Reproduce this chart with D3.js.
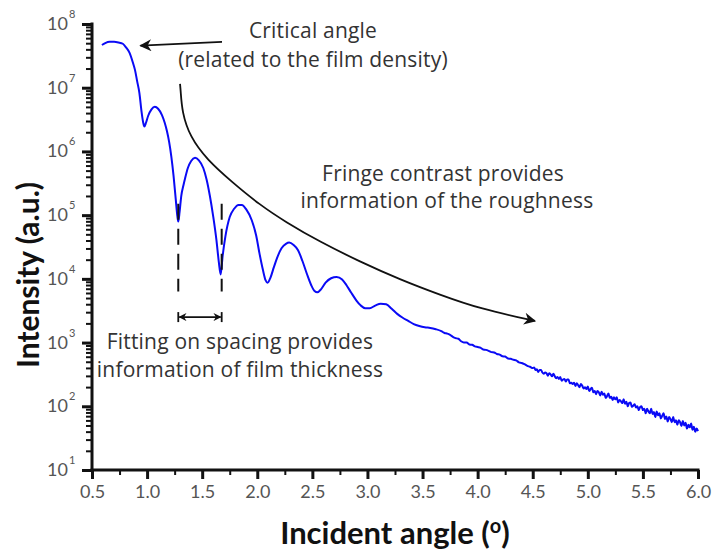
<!DOCTYPE html>
<html><head><meta charset="utf-8">
<script src="https://cdn.jsdelivr.net/npm/d3@7"></script>
<style>body{margin:0;background:#fff} svg{display:block}</style>
</head><body><svg id="c" width="713" height="551"></svg>
<script>
// ---- data (angle in degrees, log10 of intensity) ----
const scanAngle = [0.59,0.62,0.66,0.70,0.74,0.78,0.81,0.84,0.87,0.89,0.91,0.93,0.95,0.965,0.975,0.99,1.01,1.04,1.07,1.10,1.135,1.16,1.18,1.20,1.22,1.24,1.26,1.275,1.283,1.295,1.31,1.33,1.345,1.37,1.40,1.435,1.47,1.51,1.54,1.57,1.60,1.63,1.65,1.668,1.685,1.71,1.75,1.79,1.83,1.86,1.90,1.95,1.99,2.02,2.05,2.075,2.094,2.12,2.15,2.18,2.22,2.26,2.29,2.33,2.37,2.41,2.45,2.49,2.52,2.545,2.58,2.62,2.67,2.72,2.77,2.81,2.85,2.90,2.94,2.98,3.02,3.07,3.12,3.17,3.22,3.27,3.32,3.37,3.42,3.47,3.52,3.57,3.62,3.67,
3.70,3.725,3.75,3.775,3.80,3.825,3.85,3.875,3.90,3.925,3.95,3.975,4.00,4.025,4.05,4.075,4.10,4.125,4.15,4.175,4.20,4.225,4.25,4.275,4.30,4.325,4.35,4.375,4.40,4.425,4.45,4.475,
4.5,4.5125,4.525,4.5375,4.55,4.5625,4.575,4.5875,4.6,4.6125,4.625,4.6375,4.65,4.6625,4.675,4.6875,4.7,4.7125,4.725,4.7375,4.75,4.7625,4.775,4.7875,4.8,4.8125,4.825,4.8375,4.85,4.8625,4.875,4.8875,4.9,4.9125,4.925,4.9375,4.95,4.9625,4.975,4.9875,5.0,5.0125,5.025,5.0375,5.05,5.0625,5.075,5.0875,5.1,5.1125,5.125,5.1375,5.15,5.1625,5.175,5.1875,5.2,5.2125,5.225,5.2375,5.25,5.2625,5.275,5.2875,5.3,5.3125,5.325,5.3375,5.35,5.3625,5.375,5.3875,5.4,5.4125,5.425,5.4375,5.45,5.4625,5.475,5.4875,5.5,5.5125,5.525,5.5375,5.55,5.5625,5.575,5.5875,5.6,5.6125,5.625,5.6375,5.65,5.6625,5.675,5.6875,5.7,5.7125,5.725,5.7375,5.75,5.7625,5.775,5.7875,5.8,5.8125,5.825,5.8375,5.85,5.8625,5.875,5.8875,5.9,5.9125,5.925,5.9375,5.95,5.9625,5.975,5.9875,6.0];
const scanLogI = [7.67,7.70,7.72,7.72,7.71,7.69,7.63,7.55,7.40,7.28,7.10,6.92,6.62,6.45,6.39,6.45,6.56,6.66,6.70,6.67,6.57,6.45,6.32,6.15,5.92,5.62,5.25,4.98,4.90,5.05,5.30,5.47,5.58,5.74,5.85,5.90,5.86,5.74,5.56,5.30,4.98,4.60,4.28,4.07,4.35,4.66,4.97,5.10,5.16,5.16,5.09,4.92,4.68,4.40,4.15,3.98,3.94,4.02,4.18,4.33,4.48,4.55,4.57,4.53,4.45,4.28,4.08,3.90,3.81,3.79,3.84,3.94,4.01,4.03,3.99,3.90,3.79,3.66,3.58,3.54,3.54,3.58,3.61,3.60,3.53,3.45,3.39,3.34,3.29,3.26,3.24,3.23,3.21,3.18,
3.15,3.14,3.12,3.09,3.07,3.06,3.02,3.00,3.00,2.97,2.965,2.94,2.93,2.92,2.89,2.885,2.87,2.85,2.845,2.82,2.81,2.785,2.78,2.75,2.745,2.73,2.72,2.69,2.68,2.66,2.635,2.62,
2.60,2.61,2.57,2.58,2.54,2.57,2.57,2.53,2.51,2.53,
2.52,2.48,2.52,2.50,2.47,2.51,2.47,2.44,2.46,2.43,
2.46,2.40,2.42,2.43,2.39,2.42,2.42,2.36,2.37,2.35,
2.37,2.32,2.36,2.33,2.30,2.35,2.32,2.28,2.30,2.27,
2.31,2.24,2.27,2.29,2.22,2.24,2.19,2.24,2.22,2.17,
2.23,2.18,2.20,2.13,2.16,2.20,2.13,2.15,2.10,2.14,
2.11,2.14,2.06,2.10,2.08,2.05,2.11,2.04,2.07,2.00,
2.05,2.06,1.99,2.01,2.03,1.98,2.00,1.94,1.99,2.00,
1.94,1.96,1.89,1.96,1.92,1.89,1.96,1.88,1.91,1.83,
1.92,1.86,1.89,1.81,1.85,1.89,1.80,1.84,1.76,1.83,
1.80,1.75,1.83,1.75,1.78,1.71,1.78,1.75,1.69,1.77,
1.70,1.74,1.65,1.71,1.67,1.73,1.63,1.68,1.60,1.65,
1.61];
const xTickValues = [0.5,1.0,1.5,2.0,2.5,3.0,3.5,4.0,4.5,5.0,5.5,6.0];
const yExponents = [1,2,3,4,5,6,7,8];
// annotation curve (roughness arrow), in data units
const arrowAngle = [1.299,1.305,1.317,1.389,1.544,1.770,2.024,2.251,2.569,2.932,3.295,3.658,4.021,4.520];
const arrowLogI  = [7.06,6.95,6.62,6.23,5.87,5.52,5.16,4.90,4.58,4.27,3.99,3.75,3.53,3.34];
const fringeMinima = [1.283,1.677];

// ---- scales ----
const svg = d3.select("#c");
const x = d3.scaleLinear().domain([0.5,6.0]).range([92,698]);
const y = d3.scaleLog().domain([1e1,1e8]).range([470,24]);
const LATO = "Lato, 'Open Sans', sans-serif";
const OPEN = "'Open Sans', Lato, sans-serif";

const defs = svg.append("defs");
function marker(id, w, h){
  defs.append("marker").attr("id",id).attr("viewBox","0 0 10 10").attr("refX",9).attr("refY",5)
    .attr("markerWidth",w).attr("markerHeight",h).attr("markerUnits","userSpaceOnUse").attr("orient","auto-start-reverse")
    .append("path").attr("d","M0,0 L10,5 L0,10 L3,5 Z").attr("fill","#111");
}
marker("ah",16,12);
marker("ahs",9,8);

// ---- axes ----
const minorY = [];
yExponents.slice(0,-1).forEach(e=>{ for(let k=2;k<=9;k++) minorY.push(k*Math.pow(10,e)); });
const gy = svg.append("g").attr("transform","translate(92,0)");
gy.call(d3.axisLeft(y).tickValues(minorY).tickSize(6).tickFormat(""))
  .call(g=>g.selectAll(".tick line").attr("stroke","#111").attr("stroke-width",2));
gy.call(g=>g.select(".domain").remove());
const gy2 = svg.append("g").attr("transform","translate(92,0)");
gy2.call(d3.axisLeft(y).tickValues(yExponents.map(e=>Math.pow(10,e))).tickSize(10).tickFormat(""))
  .call(g=>g.selectAll(".tick line").attr("stroke","#111").attr("stroke-width",3))
  .call(g=>g.select(".domain").attr("stroke","#111").attr("stroke-width",3).attr("d","M0,22.5V471.5"));
yExponents.forEach(e=>{
  svg.append("text").attr("x",68).attr("y",y(Math.pow(10,e))+6).attr("text-anchor","end")
    .style("font-family",LATO).attr("font-size",18).attr("fill","#555").text("10");
  svg.append("text").attr("x",69).attr("y",y(Math.pow(10,e))-6).style("font-family",LATO)
    .attr("font-size",11).attr("fill","#555").text(e);
});

const minorX = xTickValues.slice(0,-1).map(v=>v+0.25);
const gx = svg.append("g").attr("transform","translate(0,470)");
gx.call(d3.axisBottom(x).tickValues(minorX).tickSize(5).tickFormat(""))
  .call(g=>g.selectAll(".tick line").attr("stroke","#111").attr("stroke-width",2))
  .call(g=>g.select(".domain").remove());
const gx2 = svg.append("g").attr("transform","translate(0,470)");
gx2.call(d3.axisBottom(x).tickValues(xTickValues).tickSize(9).tickPadding(6).tickFormat(d3.format(".1f")))
  .call(g=>g.selectAll(".tick line").attr("stroke","#111").attr("stroke-width",3))
  .call(g=>g.select(".domain").attr("stroke","#111").attr("stroke-width",3).attr("d","M90.5,0H699.5"))
  .call(g=>g.selectAll(".tick text").attr("font-size",18).attr("fill","#555").style("font-family",LATO));

// axis titles
svg.append("text").attr("transform","translate(39,275) rotate(-90)").attr("text-anchor","middle")
  .style("font-family",LATO).attr("font-size",30).attr("font-weight","bold").attr("fill","#111").text("Intensity (a.u.)");
const xt = svg.append("text").attr("x",395).attr("y",544).attr("text-anchor","middle")
  .style("font-family",LATO).attr("font-size",31).attr("font-weight","bold").attr("fill","#111");
xt.append("tspan").text("Incident angle (");
xt.append("tspan").attr("dy",-11).attr("font-size",20).text("o");
xt.append("tspan").attr("dy",11).text(")");

// ---- data line ----
const scan = scanAngle.map((a,i)=>({a, v:Math.pow(10,scanLogI[i])}));
svg.append("path").datum(scan)
  .attr("d", d3.line().x(d=>x(d.a)).y(d=>y(d.v)).curve(d3.curveMonotoneX))
  .attr("fill","none").attr("stroke","#0a0af5").attr("stroke-width",2).attr("stroke-linejoin","round");

// ---- annotations ----
const ink = "#111";
svg.append("line").attr("x1",x(1.68)).attr("y1",y(Math.pow(10,7.72))).attr("x2",x(0.94)).attr("y2",y(Math.pow(10,7.66)))
  .attr("stroke",ink).attr("stroke-width",1.8).attr("marker-end","url(#ah)");
const arr = arrowAngle.map((a,i)=>[x(a), y(Math.pow(10,arrowLogI[i]))]);
svg.append("path").attr("d", d3.line().curve(d3.curveBasis)(arr))
  .attr("fill","none").attr("stroke",ink).attr("stroke-width",1.8).attr("marker-end","url(#ah)");
fringeMinima.forEach(a=>{
  svg.append("line").attr("x1",x(a)).attr("x2",x(a)).attr("y1",y(Math.pow(10,5.18))).attr("y2",y(Math.pow(10,3.80)))
    .attr("stroke",ink).attr("stroke-width",2).attr("stroke-dasharray","16,9");
});
const ya = y(Math.pow(10,3.40));
svg.append("line").attr("x1",x(fringeMinima[0])+1).attr("x2",x(fringeMinima[1])-1).attr("y1",ya).attr("y2",ya)
  .attr("stroke",ink).attr("stroke-width",1.6).attr("marker-start","url(#ahs)").attr("marker-end","url(#ahs)");
fringeMinima.forEach(a=>{
  svg.append("line").attr("x1",x(a)).attr("x2",x(a)).attr("y1",ya-5).attr("y2",ya+5).attr("stroke",ink).attr("stroke-width",1.8);
});

const notes = [
  ["Critical angle",313,38],
  ["(related to the film density)",313,67],
  ["Fringe contrast provides",443,181],
  ["information of the roughness",447,208],
  ["Fitting on spacing provides",240,349],
  ["information of film thickness",240,377]
];
notes.forEach(n=>svg.append("text").attr("x",n[1]).attr("y",n[2]).attr("text-anchor","middle")
  .style("font-family",OPEN).style("letter-spacing","0.2px").attr("font-size",21).attr("fill","#333").text(n[0]));
</script></body></html>
